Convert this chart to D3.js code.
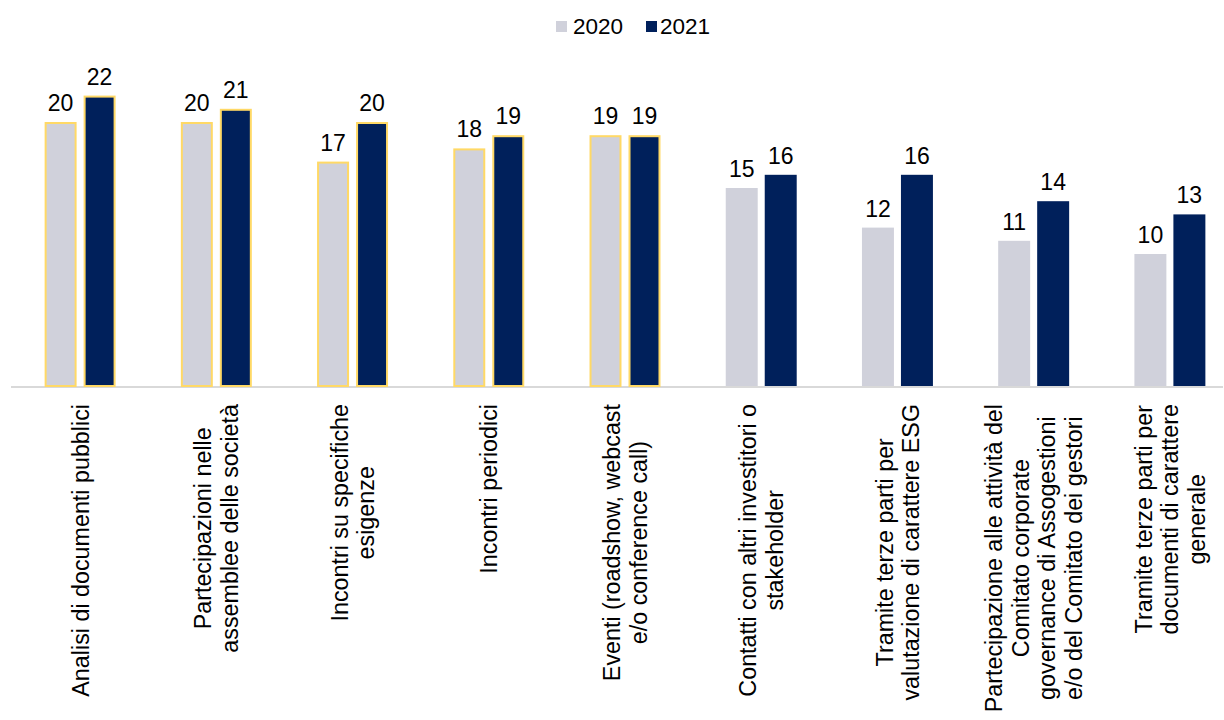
<!DOCTYPE html>
<html>
<head>
<meta charset="utf-8">
<script src="https://cdn.jsdelivr.net/npm/d3@7"></script>
<style>
  html, body { margin: 0; padding: 0; background: #fff; }
  svg { display: block; font-family: Arial, "Liberation Sans", Helvetica, sans-serif; }
</style>
</head>
<body>
<svg id="chart" width="1224" height="720"></svg>
<script>
// Canali di engagement: confronto 2020 / 2021
const categories = [
  ["Analisi di documenti pubblici"],
  ["Partecipazioni nelle", "assemblee delle società"],
  ["Incontri su specifiche", "esigenze"],
  ["Incontri periodici"],
  ["Eventi (roadshow, webcast", "e/o conference call)"],
  ["Contatti con altri investitori o", "stakeholder"],
  ["Tramite terze parti per", "valutazione di carattere ESG"],
  ["Partecipazione alle attività del", "Comitato corporate", "governance di Assogestioni", "e/o del Comitato dei gestori"],
  ["Tramite terze parti per", "documenti di carattere", "generale"]
];
const seriesNames = ["2020", "2021"];
const values2020 = [20, 20, 17, 18, 19, 15, 12, 11, 10];
const values2021 = [22, 21, 20, 19, 19, 16, 16, 14, 13];

const seriesValues = [values2020, values2021];
const colors = { "2020": "#d0d1db", "2021": "#00205b" };
const outlineColor = "#ffd966";
const outlinedCount = 5; // the first five categories carry a yellow border

const svg = d3.select("#chart");
const baseY = 386;

const idx = d3.range(categories.length);
const x0 = d3.scaleBand()
  .domain(idx)
  .range([12, 1238])
  .paddingInner(0.479)
  .paddingOuter(0.2395);

const x1 = d3.scaleBand()
  .domain(seriesNames)
  .range([0, x0.bandwidth()])
  .paddingInner(0.18);

const y = d3.scaleLinear()
  .domain([0, 22])
  .range([baseY, baseY - 22 * 13.2]);

// axis line
svg.append("line")
  .attr("x1", 11).attr("x2", 1223)
  .attr("y1", baseY + 1).attr("y2", baseY + 1)
  .attr("stroke", "#d9d9d9")
  .attr("stroke-width", 2);

// bars
const groups = svg.append("g").selectAll("g")
  .data(idx)
  .join("g")
  .attr("transform", i => `translate(${x0(i)},0)`);

groups.selectAll("rect")
  .data(i => seriesNames.map((s, k) => ({ i, s, v: seriesValues[k][i] })))
  .join("rect")
  .attr("x", d => x1(d.s) + (d.i < outlinedCount ? 1 : 0))
  .attr("width", d => x1.bandwidth() - (d.i < outlinedCount ? 2 : 0))
  .attr("y", d => y(d.v) + (d.i < outlinedCount ? 1 : 0))
  .attr("height", d => y(0) - y(d.v) - (d.i < outlinedCount ? 1 : 0))
  .attr("fill", d => colors[d.s])
  .attr("stroke", d => d.i < outlinedCount ? outlineColor : "none")
  .attr("stroke-width", 2);

// value labels
groups.selectAll("text.val")
  .data(i => seriesNames.map((s, k) => ({ i, s, v: seriesValues[k][i] })))
  .join("text")
  .attr("class", "val")
  .attr("x", d => x1(d.s) + x1.bandwidth() / 2)
  .attr("y", d => y(d.v) - 11)
  .attr("text-anchor", "middle")
  .attr("font-size", 23)
  .attr("fill", "#000")
  .text(d => d.v);

// category labels, rotated, lines centred on one another
const lineH = 26.5;
const labelTop = 404;
idx.forEach(i => {
  const lines = categories[i];
  const g = svg.append("g")
    .attr("transform", `translate(${x0(i) + x0.bandwidth() / 2},${labelTop}) rotate(-90)`);
  const texts = lines.map((t, k) => g.append("text")
    .attr("font-size", 23.3)
    .attr("fill", "#000")
    .attr("text-anchor", "middle")
    .attr("y", (k - (lines.length - 1) / 2) * lineH)
    .attr("dy", "0.36em")
    .text(t));
  const maxLen = d3.max(texts, t => t.node().getComputedTextLength());
  texts.forEach(t => t.attr("x", -maxLen / 2));
});

// legend
const legend = svg.append("g");
const legendItems = [
  { s: "2020", sx: 556, tx: 573 },
  { s: "2021", sx: 646, tx: 660 }
];
legendItems.forEach(it => {
  legend.append("rect")
    .attr("x", it.sx).attr("y", 21)
    .attr("width", 11).attr("height", 11)
    .attr("fill", colors[it.s]);
  legend.append("text")
    .attr("x", it.tx).attr("y", 34)
    .attr("font-size", 22.5)
    .attr("fill", "#000")
    .text(it.s);
});
</script>
</body>
</html>
